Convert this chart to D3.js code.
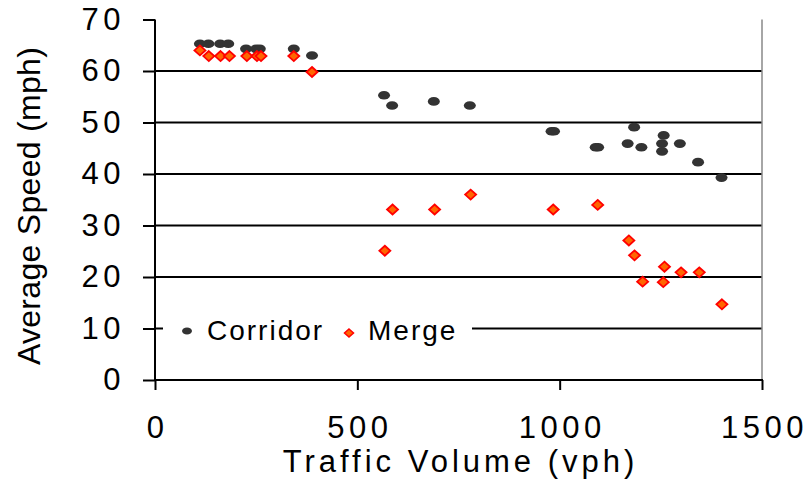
<!DOCTYPE html>
<html>
<head>
<meta charset="utf-8">
<script src="https://cdn.jsdelivr.net/npm/d3@7"></script>
<style>
  body { margin: 0; background: #fff; }
  svg { display: block; font-family: "Liberation Sans", Arial, sans-serif; }
</style>
</head>
<body>
<svg id="canvas" width="809" height="486"></svg>
<script>
// traffic volume (vph) and average speed (mph)
let corridorVolume = [111, 132, 161, 181, 225, 250, 259, 343, 388, 566, 586, 689, 778,
    980, 986, 1089, 1095, 1168, 1184, 1202, 1253, 1253, 1257, 1297, 1342, 1400];
let corridorSpeed = [65.3, 65.3, 65.3, 65.3, 64.3, 64.3, 64.3, 64.3, 63.0, 55.3, 53.3, 54.1, 53.3,
    48.3, 48.3, 45.2, 45.2, 45.9, 49.1, 45.2, 45.9, 44.4, 47.5, 45.9, 42.3, 39.3];

let mergeVolume = [111, 133, 162, 184, 227, 252, 262, 343, 388, 568, 587, 691, 780,
    984, 1094, 1171, 1185, 1205, 1256, 1259, 1300, 1345, 1401];
let mergeSpeed = [64.0, 62.9, 62.9, 62.9, 62.9, 62.9, 62.9, 62.9, 59.8, 25.1, 33.1, 33.1, 36.0,
    33.1, 34.0, 27.1, 24.2, 19.1, 19.0, 22.0, 20.9, 20.9, 14.7];

let xTicks = [0, 500, 1000, 1500];
let yTicks = [0, 10, 20, 30, 40, 50, 60, 70];

let canvas = d3.select('#canvas');

let plotLeft = 155, plotRight = 762, plotTop = 19.5, plotBottom = 380;

let xScale = d3.scaleLinear().domain([0, 1500]).range([plotLeft, plotRight]);
let yScale = d3.scaleLinear().domain([0, 70]).range([plotBottom, plotTop]);

let corridorData = corridorVolume.map((v, i) => ({ v: v, s: corridorSpeed[i] }));
let mergeData = mergeVolume.map((v, i) => ({ v: v, s: mergeSpeed[i] }));

// gridlines
canvas.append('g')
    .selectAll('line')
    .data(yTicks.filter(t => t > 0 && t < 70))
    .enter()
    .append('line')
    .attr('x1', plotLeft).attr('x2', plotRight)
    .attr('y1', d => yScale(d)).attr('y2', d => yScale(d))
    .attr('stroke', '#000').attr('stroke-width', 2);

// right border of plot area
canvas.append('line')
    .attr('x1', plotRight).attr('x2', plotRight)
    .attr('y1', plotTop).attr('y2', plotBottom)
    .attr('stroke', '#888').attr('stroke-width', 1.5);

// axes
let yAxis = canvas.append('g')
    .attr('transform', 'translate(' + plotLeft + ',0)')
    .call(d3.axisLeft(yScale).tickValues(yTicks).tickFormat(d3.format('d')).tickSize(12).tickPadding(22));
let xAxis = canvas.append('g')
    .attr('transform', 'translate(0,' + plotBottom + ')')
    .call(d3.axisBottom(xScale).tickValues(xTicks).tickFormat(d3.format('d')).tickSize(10).tickPadding(26));

[xAxis, yAxis].forEach(ax => {
    ax.select('.domain').remove();
    ax.selectAll('line').attr('stroke', '#000').attr('stroke-width', 2);
    ax.selectAll('text')
        .attr('fill', '#000')
        .style('font-size', '31px')
        .style('letter-spacing', '4.5px');
});
xAxis.selectAll('text').attr('dx', 2);
yAxis.selectAll('text').attr('dx', 4);

canvas.append('line')
    .attr('x1', plotLeft).attr('x2', plotLeft)
    .attr('y1', plotTop).attr('y2', plotBottom + 1)
    .attr('stroke', '#000').attr('stroke-width', 2);
canvas.append('line')
    .attr('x1', plotLeft - 1).attr('x2', plotRight + 1)
    .attr('y1', plotBottom).attr('y2', plotBottom)
    .attr('stroke', '#000').attr('stroke-width', 2);

// axis titles
canvas.append('text')
    .attr('x', (plotLeft + plotRight) / 2 + 2)
    .attr('y', 472)
    .attr('text-anchor', 'middle')
    .style('font-size', '31px')
    .style('letter-spacing', '4px')
    .text('Traffic Volume (vph)');

canvas.append('text')
    .attr('transform', 'translate(40,206) rotate(-90)')
    .attr('text-anchor', 'middle')
    .style('font-size', '32px')
    .style('letter-spacing', '0.3px')
    .text('Average Speed (mph)');

// legend box (covers the 10 mph gridline)
canvas.append('rect')
    .attr('x', 163).attr('y', 312)
    .attr('width', 309).attr('height', 36)
    .attr('fill', '#fff');

let diamond = (cx, cy, w, h) =>
    'M' + cx + ',' + (cy - h) + 'L' + (cx + w) + ',' + cy + 'L' + cx + ',' + (cy + h) + 'L' + (cx - w) + ',' + cy + 'Z';

// points
canvas.append('g')
    .selectAll('ellipse')
    .data(corridorData)
    .enter()
    .append('ellipse')
    .attr('cx', d => xScale(d.v))
    .attr('cy', d => yScale(d.s))
    .attr('rx', 6).attr('ry', 4.3)
    .attr('fill', '#333');

canvas.append('g')
    .selectAll('path')
    .data(mergeData)
    .enter()
    .append('path')
    .attr('d', d => diamond(xScale(d.v), yScale(d.s), 5.5, 5))
    .attr('fill', '#ff6600')
    .attr('stroke', '#ff0000')
    .attr('stroke-width', 1.8);

// legend
canvas.append('ellipse')
    .attr('cx', 187).attr('cy', 331)
    .attr('rx', 5).attr('ry', 3.5)
    .attr('fill', '#333');
canvas.append('text')
    .attr('x', 207).attr('y', 340)
    .style('font-size', '28px')
    .style('letter-spacing', '2px')
    .text('Corridor');

canvas.append('path')
    .attr('d', diamond(349, 333, 4.5, 4))
    .attr('fill', '#ff6600')
    .attr('stroke', '#ff0000')
    .attr('stroke-width', 1.5);
canvas.append('text')
    .attr('x', 368).attr('y', 340)
    .style('font-size', '28px')
    .style('letter-spacing', '2px')
    .text('Merge');
</script>
</body>
</html>
